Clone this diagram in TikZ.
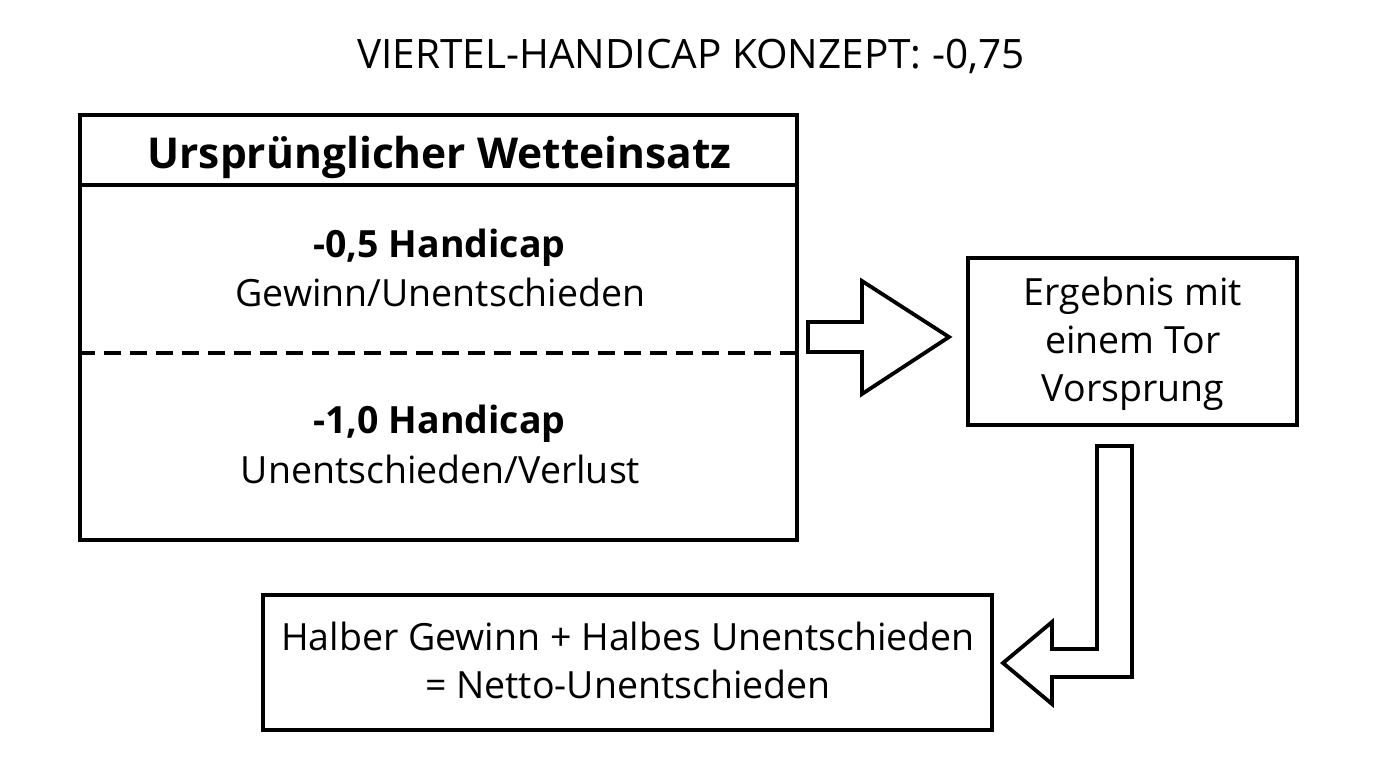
\documentclass[tikz,border=0pt]{standalone}
\usepackage{fontspec}
\setmainfont{Open Sans}
\begin{document}
\begin{tikzpicture}[x=1pt,y=-1pt,
  box/.style={draw=black,line width=4pt,fill=white,inner sep=0pt},
  txt/.style={anchor=base,inner sep=0pt,font=\fontsize{37.5}{48}\selectfont},
  btxt/.style={anchor=base,inner sep=0pt,font=\fontsize{37.5}{48}\selectfont\bfseries},
  blockarrow/.style={draw=black,line width=3.8pt,fill=white,line join=miter}]
\useasboundingbox (0,0) rectangle (1376,768);
% title
\node[txt,font=\fontsize{40.5}{48}\selectfont] (title) at (691,69) {VIERTEL-HANDICAP KONZEPT: -0,75};
% big box
\node[box,minimum width=717pt,minimum height=425pt] (big) at (438.5,327.5) {};
\draw[line width=4pt] (big.west |- 0,185) coordinate (h1) -- (big.east |- 0,185) coordinate (h2);
\draw[line width=4pt,dash pattern=on 17pt off 9pt] (big.west |- 0,353) coordinate (d1) -- (big.east |- 0,353) coordinate (d2);
\node[btxt,font=\fontsize{42.5}{48}\selectfont\bfseries] (head) at (439.5,168) {Ursprünglicher Wetteinsatz};
\node[btxt] (h05) at (439.5,257) {-0,5 Handicap};
\node[txt] (g05) at (440.5,306) {Gewinn/Unentschieden};
\node[btxt] (h10) at (439.5,433) {-1,0 Handicap};
\node[txt] (g10) at (440.5,483) {Unentschieden/Verlust};
% result box
\node[box,minimum width=329pt,minimum height=167pt] (res) at (1132.5,341.5) {};
\node[txt] (r1) at (1133,305) {Ergebnis mit};
\node[txt] (r2) at (1133,353) {einem Tor};
\node[txt] (r3) at (1133,401) {Vorsprung};
% bottom box
\node[box,minimum width=729pt,minimum height=135pt] (net) at (627.5,662.5) {};
\node[txt] (n1) at (628,650) {Halber Gewinn + Halbes Unentschieden};
\node[txt] (n2) at (628,698) {= Netto-Unentschieden};
% right block arrow
\draw[blockarrow] (808,322) -- (862,322) -- (862,281) -- (949,337) -- (862,394) -- (862,352) -- (808,352) -- cycle;
% bent block arrow
\draw[blockarrow] (1097,446) -- (1132,446) -- (1132,677) -- (1052,677) -- (1052,704) -- (1003,663) -- (1052,622) -- (1052,649) -- (1097,649) -- cycle;
\end{tikzpicture}
\end{document}
